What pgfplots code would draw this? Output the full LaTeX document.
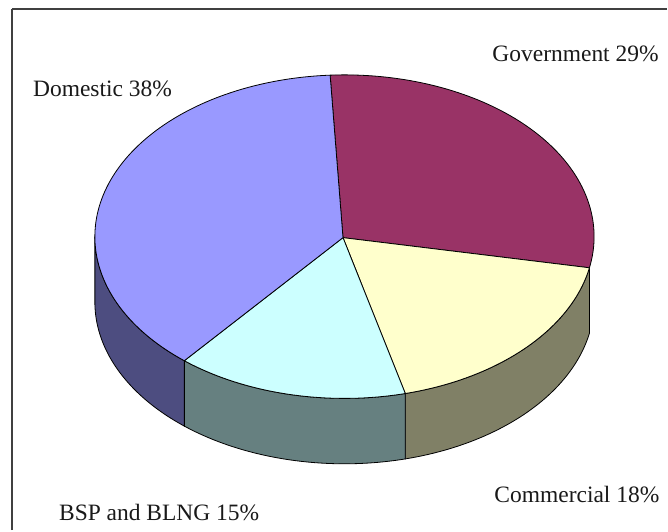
\documentclass[border=0pt]{standalone}
\usepackage{pgfplots}
\pgfplotsset{compat=1.18}
\usepgfplotslibrary{fillbetween}
\usepackage{fontspec}
\setmainfont{Liberation Serif}
\definecolor{domtop}{HTML}{9999FF}
\definecolor{domwall}{HTML}{4D4D80}
\definecolor{govtop}{HTML}{993366}
\definecolor{comtop}{HTML}{FFFFCC}
\definecolor{comwall}{HTML}{808066}
\definecolor{bsptop}{HTML}{CCFFFF}
\definecolor{bspwall}{HTML}{668080}
% shares (percent)
\def\pGov{29}\def\pCom{18}\def\pBsp{15}\def\pDom{38}
% geometry (bp): ellipse centre, radii, depth
\def\cx{345}\def\cy{294}\def\rx{250}\def\ry{162}\def\dep{65.5}
\pgfmathsetmacro\aA{93.3}
\pgfmathsetmacro\aB{\aA-3.6*\pGov}
\pgfmathsetmacro\aC{\aB-3.6*\pCom}
\pgfmathsetmacro\aD{\aC-3.6*\pBsp}
\pgfmathsetmacro\aE{\aD-3.6*\pDom}
\tikzset{lbl/.style={font=\fontsize{23.5bp}{28bp}\selectfont, inner sep=0pt, anchor=base west, text=black!90}}
\begin{document}
\begin{tikzpicture}
\begin{axis}[
  width=656bp, height=522bp, scale only axis,
  xmin=12, xmax=668, ymin=0, ymax=522,
  axis x line*=top, axis y line*=left,
  x axis line style={-}, y axis line style={-},
  axis line style={line width=2bp, color=black!75},
  xtick=\empty, ytick=\empty,
  clip=false,
]
\path (axis cs:0,0) rectangle (axis cs:668,531);
% side walls
\addplot[name path=cT, draw=none, domain=\aC:\aB, samples=50, variable=\t] ({\cx+\rx*cos(t)},{\cy+\ry*sin(t)});
\addplot[name path=cB, draw=none, domain=\aC:\aB, samples=50, variable=\t] ({\cx+\rx*cos(t)},{\cy-\dep+\ry*sin(t)});
\addplot[fill=comwall, draw=black, line width=0.8bp] fill between[of=cT and cB];
\addplot[name path=bT, draw=none, domain=\aD:\aC, samples=50, variable=\t] ({\cx+\rx*cos(t)},{\cy+\ry*sin(t)});
\addplot[name path=bB, draw=none, domain=\aD:\aC, samples=50, variable=\t] ({\cx+\rx*cos(t)},{\cy-\dep+\ry*sin(t)});
\addplot[fill=bspwall, draw=black, line width=0.8bp] fill between[of=bT and bB];
\addplot[name path=dT, draw=none, domain=-180:\aD, samples=50, variable=\t] ({\cx+\rx*cos(t)},{\cy+\ry*sin(t)});
\addplot[name path=dB, draw=none, domain=-180:\aD, samples=50, variable=\t] ({\cx+\rx*cos(t)},{\cy-\dep+\ry*sin(t)});
\addplot[fill=domwall, draw=black, line width=0.8bp] fill between[of=dT and dB];
% top sectors
\addplot[fill=govtop, draw=black, line width=0.8bp, domain=\aB:\aA, samples=80, variable=\t] ({\cx+\rx*cos(t)},{\cy+\ry*sin(t)}) -- (axis cs:343.5,293) -- cycle;
\addplot[fill=comtop, draw=black, line width=0.8bp, domain=\aC:\aB, samples=60, variable=\t] ({\cx+\rx*cos(t)},{\cy+\ry*sin(t)}) -- (axis cs:343.5,293) -- cycle;
\addplot[fill=bsptop, draw=black, line width=0.8bp, domain=\aD:\aC, samples=60, variable=\t] ({\cx+\rx*cos(t)},{\cy+\ry*sin(t)}) -- (axis cs:343.5,293) -- cycle;
\addplot[fill=domtop, draw=black, line width=0.8bp, domain=\aE:\aD, samples=100, variable=\t] ({\cx+\rx*cos(t)},{\cy+\ry*sin(t)}) -- (axis cs:343.5,293) -- cycle;
% labels
\node[lbl] at (axis cs:33,434.3) {Domestic 38\%};
\node[lbl] at (axis cs:493,469.3) {Government 29\%};
\node[lbl] at (axis cs:59,10) {BSP and BLNG 15\%};
\node[lbl] at (axis cs:495,28) {Commercial 18\%};
\end{axis}
\end{tikzpicture}
\end{document}
